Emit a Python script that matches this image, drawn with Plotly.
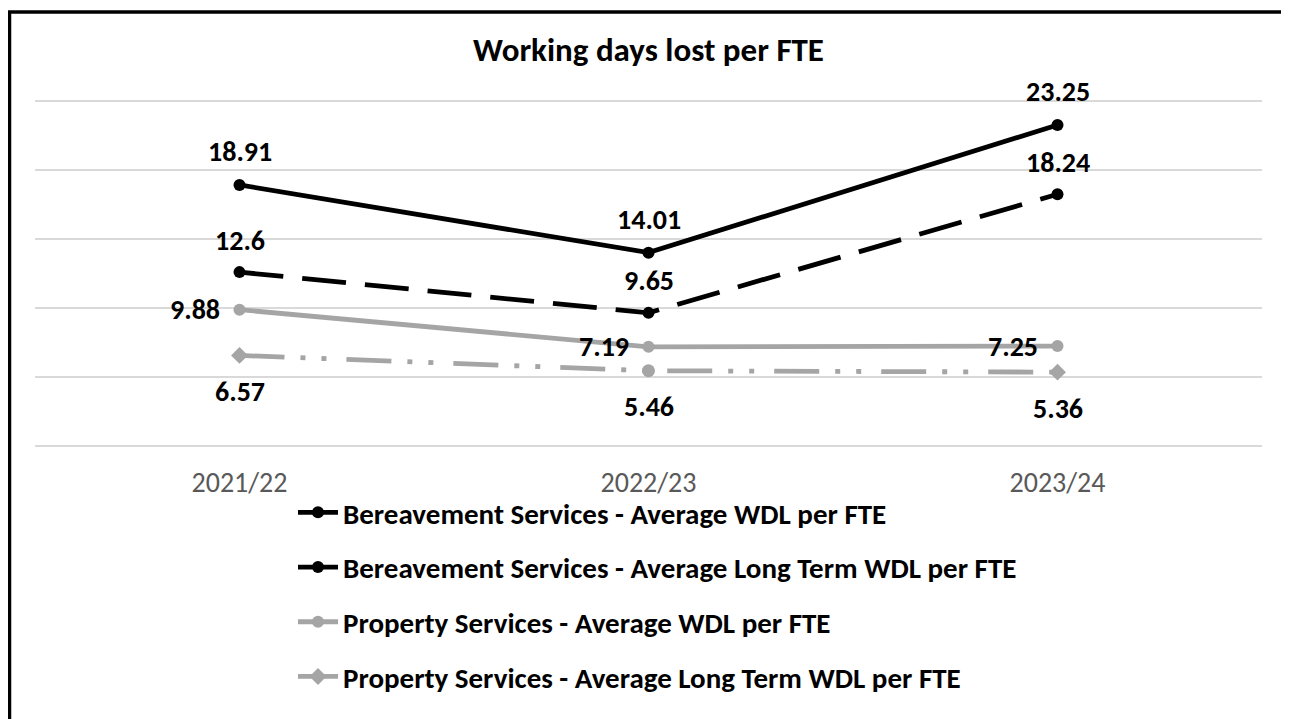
import plotly.graph_objects as go

categories = ["2021/22", "2022/23", "2023/24"]
bereave_wdl = [18.91, 14.01, 23.25]
bereave_lt = [12.6, 9.65, 18.24]
property_wdl = [9.88, 7.19, 7.25]
property_lt = [6.57, 5.46, 5.36]
names = [
    "Bereavement Services - Average WDL per FTE",
    "Bereavement Services - Average Long Term WDL per FTE",
    "Property Services - Average WDL per FTE",
    "Property Services - Average Long Term WDL per FTE",
]
label_texts = [
    ["18.91", "14.01", "23.25"],
    ["12.6", "9.65", "18.24"],
    ["9.88", "7.19", "7.25"],
    ["6.57", "5.46", "5.36"],
]
grid_vals = [0, 5, 10, 15, 20, 25]

FONT = "Carlito, Lato, sans-serif"
BLACK = "#000000"
GRAY = "#a5a5a5"

# figure is placed at (8, 8) in the page by the default body margin
W, H = 1281, 711
L, R, T, B = 27, 27, 79, 259
PW, PH = W - L - R, H - T - B


def px_x(x):
    return (x - L) / PW


def px_y(y):
    return (H - B - y) / PH


series = [bereave_wdl, bereave_lt, property_wdl, property_lt]
styles = [
    dict(color=BLACK, dash="solid", symbol="circle", size=12),
    dict(color=BLACK, dash="44px,19px", symbol="circle", size=12),
    dict(color=GRAY, dash="solid", symbol="circle", size=12),
    dict(color=GRAY, dash="45px,16px,5px,16px,5px,20px",
         symbol=["diamond", "circle", "diamond"], size=13),
]

fig = go.Figure()
for i, (vals, st) in enumerate(zip(series, styles)):
    fig.add_trace(go.Scatter(
        x=categories, y=vals, name=names[i], mode="lines+markers",
        legendgroup=f"g{i}",
        line=dict(color=st["color"], width=4.8, dash=st["dash"]),
        marker=dict(color=st["color"], symbol=st["symbol"], size=st["size"]),
        cliponaxis=False,
    ))

# data labels: (xanchor, yanchor, xshift, yshift) per series
label_pos = [
    ("center", "middle", 0, 33),
    ("center", "middle", 0, 32),
    ("right", "middle", -18, 0),
    ("center", "middle", 0, -36),
]
for vals, texts, pos in zip(series, label_texts, label_pos):
    for c, v, t in zip(categories, vals, texts):
        fig.add_annotation(
            x=c, y=v, text=t, showarrow=False,
            xanchor=pos[0], yanchor=pos[1], xshift=pos[2], yshift=pos[3],
            font=dict(family=FONT, size=28, color="#000000", weight="bold"),
        )

fig.update_layout(
    width=W, height=H,
    margin=dict(l=L, r=R, t=T, b=B, pad=0),
    paper_bgcolor="white", plot_bgcolor="white",
    title=dict(text="Working days lost per FTE", x=0.5, xref="paper",
               y=1 - 41 / H, yref="container", yanchor="middle", xanchor="center",
               font=dict(family=FONT, size=33, color="#000000", weight="bold")),
    xaxis=dict(showgrid=False, showline=False, zeroline=False, ticks="",
               tickfont=dict(family=FONT, size=28, color="#595959"),
               ticklabelstandoff=3, range=[-0.5, 2.5]),
    yaxis=dict(range=[-1, 26], tickvals=grid_vals,
               showticklabels=False, showgrid=True,
               gridcolor="#d9d9d9", gridwidth=2, zeroline=False, showline=False),
    showlegend=True,
    legend=dict(x=px_x(285), xanchor="left", y=px_y(479), yanchor="top",
                orientation="v", tracegroupgap=14, itemwidth=40,
                font=dict(family=FONT, size=29, color="#000000", weight="bold"),
                bgcolor="rgba(0,0,0,0)"),
    shapes=[dict(type="rect", xref="paper", yref="paper",
                 x0=px_x(1.5), x1=px_x(1277),
                 y0=px_y(730), y1=px_y(4),
                 line=dict(color="black", width=3.5), fillcolor="rgba(0,0,0,0)",
                 layer="above")],
)

fig.write_html("out.html")
